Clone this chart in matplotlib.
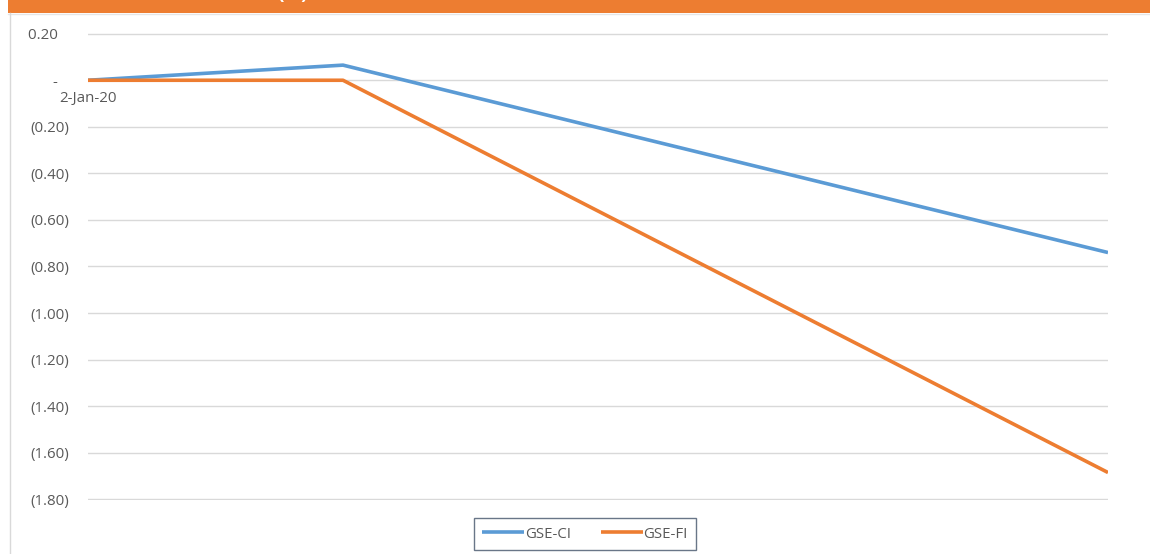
import matplotlib
matplotlib.use("Agg")
import matplotlib.pyplot as plt
import matplotlib.dates as mdates
from matplotlib.patches import Rectangle
from matplotlib.lines import Line2D
from matplotlib.ticker import FuncFormatter, FixedLocator
import datetime as dt

dates = [dt.date(2020, 1, 2), dt.date(2020, 1, 3), dt.date(2020, 1, 6)]
gse_ci = [0.0, 0.065, -0.74]
gse_fi = [0.0, 0.0, -1.685]
series_names = ["GSE-CI", "GSE-FI"]
y_ticks = [0.2, 0.0, -0.2, -0.4, -0.6, -0.8, -1.0, -1.2, -1.4, -1.6, -1.8]

BLUE = "#5B9BD5"
ORANGE = "#ED7D31"
TXT = "#595959"
FONT = "Open Sans"
FS = 10.8

W, H = 1150, 554
fig = plt.figure(figsize=(W / 100, H / 100), dpi=100)
fig.patch.set_facecolor("white")

# banner
fig.patches.append(Rectangle((8 / W, 1 - 13 / H), 1, 13 / H, transform=fig.transFigure,
                             facecolor=ORANGE, edgecolor="none", zorder=0))
fig.lines.append(Line2D([8 / W, 1], [1 - 14 / H, 1 - 14 / H], transform=fig.transFigure,
                        color="#E6E6E6", lw=1))
fig.lines.append(Line2D([9.5 / W, 9.5 / W], [0, 1 - 13 / H], transform=fig.transFigure,
                        color="#D9D9D9", lw=1))
fig.text(293 / W, 1 + 1.5 / H, "(%)", color="white", fontsize=14, fontweight="bold",
         ha="center", va="baseline", family=FONT)

ax = fig.add_axes([88 / W, 1 - 500 / H, (1108 - 88) / W, 467 / H])
xd = mdates.date2num(dates)
ax.plot(xd, gse_ci, color=BLUE, lw=2.6, solid_capstyle="butt", label=series_names[0], zorder=3)
ax.plot(xd, gse_fi, color=ORANGE, lw=2.6, solid_capstyle="butt", label=series_names[1], zorder=3)

ax.set_xlim(xd[0], xd[-1])
ax.set_ylim(-1.803, 0.203)
ax.yaxis.set_major_locator(FixedLocator(y_ticks))


def fmt(v, pos):
    if abs(v) < 1e-9:
        return "-   "
    if v < 0:
        return "({:.2f})".format(-v)
    return "{:.2f}   ".format(v)


ax.yaxis.set_major_formatter(FuncFormatter(fmt))
ax.xaxis.set_major_locator(FixedLocator([xd[0]]))
ax.xaxis.set_major_formatter(FuncFormatter(lambda v, p: "2-Jan-20"))
ax.spines["bottom"].set_position(("data", 0))
for s in ax.spines.values():
    s.set_visible(False)
ax.grid(axis="y", color="#D9D9D9", lw=1)
ax.set_axisbelow(True)
ax.tick_params(axis="y", length=0, pad=13.5, labelsize=FS, labelcolor=TXT)
ax.tick_params(axis="x", length=0, pad=8, labelsize=FS, labelcolor=TXT)
for lab in ax.get_yticklabels() + ax.get_xticklabels():
    lab.set_family(FONT)

leg = fig.legend(loc="center", bbox_to_anchor=(585 / W, 1 - 534 / H), ncol=2,
                 frameon=True, fancybox=False, edgecolor="#44546A",
                 prop={"family": FONT, "size": FS}, handlelength=2.8,
                 handletextpad=0.05, columnspacing=2.0, borderpad=0.55)
leg.get_frame().set_linewidth(1)
for t in leg.get_texts():
    t.set_color(TXT)

fig.savefig("out.png", dpi=100, facecolor="white")
